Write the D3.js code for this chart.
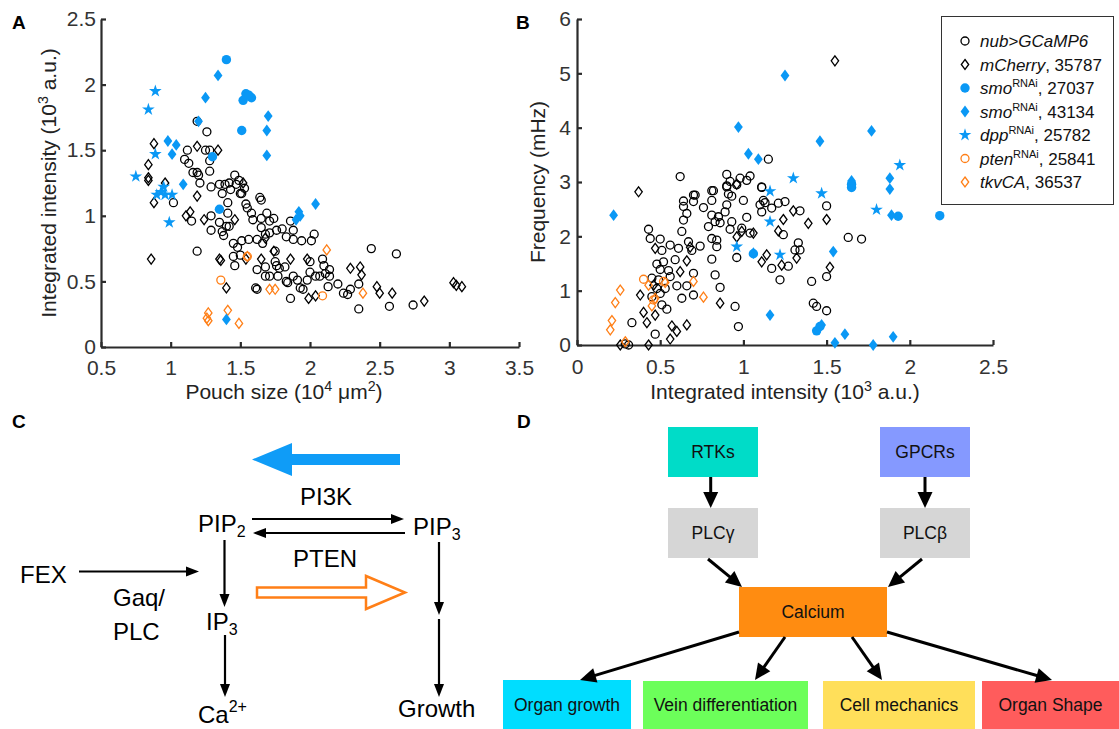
<!DOCTYPE html>
<html>
<head>
<meta charset="utf-8">
<script src="https://cdn.jsdelivr.net/npm/d3@7"></script>
<style>
  body { margin: 0; background: #fff; }
  svg { display: block; font-family: Arial, "Liberation Sans", Helvetica, sans-serif; }
</style>
</head>
<body>
<div id="fig"></div>
<script>
// ── DATA ──────────────────────────────────────────────────────────────────
// Panel A: pouch size (10^4 um^2) vs integrated intensity (10^3 a.u.)
const aNub = [[1.19,1.72],[1.26,1.64],[1.12,1.50],[1.25,1.50],[1.28,1.50],[1.10,1.43],[1.13,1.40],[1.28,1.42],[1.28,1.34],[1.16,1.33],[1.19,1.33],[1.20,1.31],[1.21,1.25],[1.29,1.22],[1.35,1.24],[1.39,1.24],[1.42,1.25],[1.46,1.31],[1.49,1.27],[1.37,1.17],[1.43,1.20],[1.50,1.17],[1.53,1.21],[1.64,1.14],[1.47,1.24],[1.51,1.17],[1.41,1.10],[1.54,1.09],[1.65,1.12],[1.02,1.10],[1.15,0.96],[1.29,1.00],[1.29,0.89],[1.41,1.02],[1.35,0.95],[1.40,0.92],[1.42,0.92],[1.37,0.88],[1.38,0.85],[1.58,1.02],[1.55,1.06],[1.59,0.97],[1.65,0.98],[1.69,1.02],[1.71,0.96],[1.74,0.98],[1.65,0.91],[1.68,0.86],[1.71,0.87],[1.76,0.89],[1.80,0.90],[1.86,0.96],[1.88,0.89],[1.88,0.82],[1.83,0.84],[1.94,0.81],[2.01,0.81],[2.03,0.86],[1.45,0.79],[1.48,0.76],[1.51,0.81],[1.56,0.82],[1.62,0.82],[1.66,0.79],[1.45,0.69],[1.46,0.62],[1.50,0.70],[1.19,0.73],[1.62,0.59],[1.68,0.61],[1.68,0.54],[1.71,0.54],[1.61,0.45],[1.62,0.44],[1.75,0.73],[1.75,0.65],[1.76,0.62],[1.78,0.60],[1.82,0.61],[1.77,0.54],[1.83,0.50],[1.88,0.54],[1.91,0.51],[1.93,0.45],[1.95,0.44],[1.98,0.51],[2.00,0.57],[2.00,0.65],[2.04,0.54],[2.07,0.54],[2.09,0.67],[2.10,0.62],[2.11,0.56],[2.14,0.59],[2.14,0.54],[2.13,0.46],[2.20,0.48],[2.24,0.41],[2.27,0.40],[2.29,0.44],[2.35,0.48],[2.35,0.29],[1.86,0.37],[1.84,0.49],[2.44,0.75],[2.62,0.71],[2.57,0.31],[2.74,0.32]];
const aMcherry = [[0.88,1.55],[0.84,1.39],[0.84,1.29],[1.19,1.53],[1.34,1.50],[0.96,1.25],[1.19,1.15],[0.84,1.27],[0.88,1.10],[1.14,1.03],[1.11,1.00],[1.24,0.97],[0.86,0.67],[1.35,0.67],[1.36,0.66],[1.40,0.45],[1.54,0.67],[1.65,0.67],[1.99,0.37],[2.04,0.39],[2.29,0.60],[2.36,0.61],[2.37,0.55],[2.48,0.46],[2.50,0.41],[2.59,0.41],[2.82,0.35],[3.03,0.49],[3.05,0.47],[3.09,0.46],[1.98,0.67],[1.74,0.73],[1.86,0.67],[1.46,0.97],[1.52,1.25],[1.68,0.83]];
const aSmo27037 = [[1.40,2.19],[1.54,1.93],[1.52,1.88],[1.58,1.90],[1.51,1.65],[1.30,1.45],[1.35,1.05],[1.56,1.92]];
const aSmo43134 = [[1.34,2.07],[1.25,1.90],[1.20,1.72],[1.70,1.76],[1.69,1.65],[1.69,1.46],[0.98,1.57],[1.04,1.54],[1.01,1.47],[1.09,1.24],[1.92,1.03],[1.90,0.97],[1.93,1.00],[2.04,1.09],[1.40,0.21]];
const aDpp = [[0.89,1.95],[0.84,1.81],[0.89,1.47],[0.75,1.30],[0.90,1.16],[0.95,1.22],[0.96,1.16],[1.01,1.16],[0.99,0.95],[0.93,1.18]];
const aPten = [[1.36,0.51],[2.09,0.39],[1.55,0.69]];
const aTkv = [[1.27,0.26],[1.26,0.22],[1.27,0.20],[1.41,0.28],[1.49,0.18],[1.71,0.44],[1.75,0.44],[1.55,0.69],[2.12,0.74],[2.38,0.41]];

// Panel B: integrated intensity (10^3 a.u.) vs frequency (mHz)
const bNub = [[0.62,3.10],[1.15,3.42],[0.90,3.14],[0.98,3.07],[1.04,3.11],[1.02,3.03],[0.92,3.01],[0.90,2.91],[0.96,2.95],[0.71,2.76],[0.82,2.84],[1.11,2.90],[0.91,2.78],[0.33,0.41],[0.47,0.20],[0.54,0.66],[0.51,0.74],[0.43,2.13],[0.44,1.96],[0.50,1.95],[0.51,1.74],[0.48,1.49],[0.45,1.23],[0.50,1.39],[0.52,1.53],[0.49,1.20],[0.48,1.04],[0.45,0.89],[0.50,0.95],[0.53,1.04],[0.55,1.37],[0.56,1.26],[0.60,1.09],[0.63,0.86],[0.59,1.57],[0.61,1.78],[0.56,1.84],[0.63,2.09],[0.64,2.30],[0.64,2.65],[0.64,2.55],[0.66,2.42],[0.70,2.64],[0.70,2.76],[0.67,1.90],[0.69,1.74],[0.70,1.32],[0.70,0.92],[0.66,1.09],[0.74,1.82],[0.76,2.53],[0.81,2.84],[0.81,2.66],[0.81,2.39],[0.83,2.27],[0.79,2.18],[0.85,2.36],[0.86,2.25],[0.89,2.45],[0.90,2.58],[0.90,2.93],[0.93,2.74],[0.93,2.27],[0.92,2.13],[0.81,1.96],[0.84,1.81],[0.84,1.93],[0.81,1.58],[0.83,1.29],[0.86,1.06],[0.96,1.61],[0.95,0.71],[0.97,0.34],[1.00,2.66],[1.02,2.35],[0.99,2.15],[1.04,2.06],[1.11,2.91],[1.10,2.58],[1.11,2.45],[1.12,2.66],[1.13,2.62],[1.17,2.52],[1.21,2.61],[1.25,2.64],[1.24,2.03],[1.33,1.88],[1.31,1.75],[1.34,1.75],[1.27,1.45],[1.22,1.20],[1.17,1.41],[1.34,2.47],[1.50,2.56],[1.41,1.17],[1.50,1.26],[1.42,0.77],[1.44,0.71],[1.50,0.63],[1.63,1.98],[1.71,1.95],[0.31,0.00],[0.29,0.02]];
const bMcherry = [[1.55,5.23],[0.37,2.82],[0.47,1.78],[0.38,0.92],[0.40,0.60],[0.42,0.41],[0.47,0.55],[0.57,0.35],[0.60,0.25],[0.56,0.11],[0.66,0.37],[0.26,0.00],[0.43,0.00],[0.66,1.55],[0.62,1.35],[0.86,0.77],[0.96,2.96],[0.96,1.99],[1.11,1.53],[1.14,1.66],[1.21,2.10],[1.24,2.31],[1.30,2.47],[1.23,1.47],[1.32,1.60],[1.39,2.24],[1.50,2.31],[1.52,1.43],[1.06,2.06],[0.99,2.09],[0.46,1.10],[0.68,1.80]];
const bSmo27037 = [[1.65,2.90],[1.65,2.96],[1.06,1.68],[1.44,0.26],[1.46,0.34],[1.93,2.37],[2.18,2.38]];
const bSmo43134 = [[0.22,2.39],[1.25,4.96],[0.97,4.01],[1.03,3.52],[1.09,3.42],[1.46,3.75],[1.65,3.02],[1.77,3.94],[1.88,3.07],[1.88,2.87],[1.89,2.39],[1.78,0.00],[1.90,0.15],[1.06,1.69],[1.54,1.72],[1.16,0.55],[1.61,0.20],[1.55,0.04],[1.47,0.37]];
const bDpp = [[1.30,3.07],[1.16,2.83],[1.47,2.79],[1.16,2.27],[0.96,1.81],[1.22,1.66],[1.80,2.49],[1.94,3.31]];
const bPten = [[0.40,1.21],[0.52,1.17],[0.46,0.83]];
const bTkv = [[0.26,1.01],[0.23,0.78],[0.21,0.45],[0.20,0.28],[0.29,0.06],[0.45,0.72],[0.43,1.10],[0.47,0.86],[0.53,1.15],[0.70,1.17],[0.76,0.88]];

// Tick labels
const aXTicks = [0.5, 1, 1.5, 2, 2.5, 3, 3.5];
const aYTicks = [0, 0.5, 1, 1.5, 2, 2.5];
const bXTicks = [0, 0.5, 1, 1.5, 2, 2.5];
const bYTicks = [0, 1, 2, 3, 4, 5, 6];

// Legend
const legendNames = ["nub>GCaMP6", "mCherry", "smo", "smo", "dpp", "pten", "tkvCA"];
const legendSup   = ["", "", "RNAi", "RNAi", "RNAi", "RNAi", ""];
const legendCodes = ["", ", 35787", ", 27037", ", 43134", ", 25782", ", 25841", ", 36537"];

// Panel D nodes
const dTop    = ["RTKs", "GPCRs"];
const dMid    = ["PLCγ", "PLCβ"];
const dCenter = "Calcium";
const dBottom = ["Organ growth", "Vein differentiation", "Cell mechanics", "Organ Shape"];

// ── STYLE ─────────────────────────────────────────────────────────────────
const BLUE = "#0a98f5";
const ORANGE = "#ff7f17";
const AXIS = "#2b2b2b";
const FONT = "Arial, 'Liberation Sans', Helvetica, sans-serif";
const TICK_FS = 21;
const LABEL_FS = 21;

const W = 1119, H = 729;
const svg = d3.select("#fig").append("svg")
  .attr("width", W).attr("height", H);
svg.append("rect").attr("width", W).attr("height", H).attr("fill", "#fff");

// ── MARKER SHAPES ─────────────────────────────────────────────────────────
const diamondPath = (w, h) => `M0,${-h}L${w},0L0,${h}L${-w},0Z`;
const starPath = d3.symbol(d3.symbolStar, 50)();

const series = (nub, mch, s1, s2, dpp, pten, tkv) => [
  { data: nub,  kind: "circle",  fill: "none", stroke: "#000" },
  { data: mch,  kind: "diamond", fill: "none", stroke: "#000" },
  { data: pten, kind: "circle",  fill: "none", stroke: ORANGE },
  { data: tkv,  kind: "diamond", fill: "none", stroke: ORANGE },
  { data: s1,   kind: "dot",     fill: BLUE,   stroke: "none" },
  { data: s2,   kind: "fdiamond",fill: BLUE,   stroke: "none" },
  { data: dpp,  kind: "star",    fill: BLUE,   stroke: "none" },
];

function drawMarker(sel, kind) {
  if (kind === "circle") return sel.append("circle").attr("r", 4).attr("stroke-width", 1.3);
  if (kind === "dot") return sel.append("circle").attr("r", 4.7);
  if (kind === "diamond") return sel.append("path").attr("d", diamondPath(3.7, 5)).attr("stroke-width", 1.3);
  if (kind === "fdiamond") return sel.append("path").attr("d", diamondPath(4.4, 5.9));
  return sel.append("path").attr("d", starPath);
}

function scatter(g, x, y, list) {
  list.forEach(s => {
    s.data.forEach(d => {
      const m = g.append("g").attr("transform", `translate(${x(d[0])},${y(d[1])})`);
      drawMarker(m, s.kind).attr("fill", s.fill).attr("stroke", s.stroke);
    });
  });
}

function styleAxis(ax) {
  ax.select(".domain").attr("stroke", AXIS).attr("stroke-width", 2.2);
  ax.selectAll(".tick line").attr("stroke", AXIS).attr("stroke-width", 2.2);
  ax.selectAll(".tick text")
    .attr("fill", "#333").attr("font-family", FONT).attr("font-size", TICK_FS + "px");
}

const fmt = d => String(d);

// label with superscripts: parts = [[text, isSup], ...]
function richLabel(g, transform, parts, fs) {
  const t = g.append("text").attr("transform", transform)
    .attr("text-anchor", "middle").attr("font-size", fs + "px").attr("fill", "#222");
  let up = false;
  parts.forEach(([txt, sup]) => {
    const ts = t.append("tspan").text(txt);
    if (sup && !up) { ts.attr("dy", -fs * 0.4).attr("font-size", (fs * 0.68) + "px"); up = true; }
    else if (sup) ts.attr("font-size", (fs * 0.68) + "px");
    else if (up) { ts.attr("dy", fs * 0.4); up = false; }
  });
  return t;
}

// ── PANEL A ───────────────────────────────────────────────────────────────
const xA = d3.scaleLinear().domain([0.5, 3.5]).range([101, 519]);
const yA = d3.scaleLinear().domain([0, 2.5]).range([347, 19]);
const gA = svg.append("g");

gA.append("g").attr("transform", `translate(0,${yA(0)})`)
  .call(d3.axisBottom(xA).tickValues(aXTicks).tickFormat(fmt).tickSize(-5).tickSizeOuter(0).tickPadding(13))
  .call(styleAxis);
gA.append("g").attr("transform", `translate(${xA(0.5)},0)`)
  .call(d3.axisLeft(yA).tickValues(aYTicks).tickFormat(fmt).tickSize(-5).tickSizeOuter(0).tickPadding(5))
  .call(styleAxis);

scatter(gA, xA, yA, series(aNub, aMcherry, aSmo27037, aSmo43134, aDpp, aPten, aTkv));

richLabel(gA, "translate(284,399)",
  [["Pouch size (10"], ["4", true], [" μm"], ["2", true], [")"]], LABEL_FS);
richLabel(gA, "translate(56,183) rotate(-90)",
  [["Integrated intensity (10"], ["3", true], [" a.u.)"]], LABEL_FS);

// ── PANEL B ───────────────────────────────────────────────────────────────
const xB = d3.scaleLinear().domain([0, 2.5]).range([577, 993]);
const yB = d3.scaleLinear().domain([0, 6]).range([345, 19]);
const gB = svg.append("g");

gB.append("g").attr("transform", `translate(0,${yB(0)})`)
  .call(d3.axisBottom(xB).tickValues(bXTicks).tickFormat(fmt).tickSize(-5).tickSizeOuter(0).tickPadding(14))
  .call(styleAxis);
gB.append("g").attr("transform", `translate(${xB(0)},0)`)
  .call(d3.axisLeft(yB).tickValues(bYTicks).tickFormat(fmt).tickSize(-5).tickSizeOuter(0).tickPadding(6))
  .call(styleAxis);

scatter(gB, xB, yB, series(bNub, bMcherry, bSmo27037, bSmo43134, bDpp, bPten, bTkv));

richLabel(gB, "translate(785,399)",
  [["Integrated intensity (10"], ["3", true], [" a.u.)"]], LABEL_FS);
richLabel(gB, "translate(545,182) rotate(-90)", [["Frequency (mHz)"]], LABEL_FS);

// Legend
const leg = svg.append("g");
leg.append("rect").attr("x", 941.5).attr("y", 16.5).attr("width", 172).attr("height", 188)
  .attr("fill", "#fff").attr("stroke", "#333").attr("stroke-width", 1);
const legKinds = ["circle", "diamond", "dot", "fdiamond", "star", "circle", "diamond"];
const legColors = ["#000", "#000", BLUE, BLUE, BLUE, ORANGE, ORANGE];
legendNames.forEach((name, i) => {
  const cy = 41 + i * 23.5;
  const m = leg.append("g").attr("transform", `translate(965,${cy})`);
  const filled = legKinds[i] === "dot" || legKinds[i] === "fdiamond" || legKinds[i] === "star";
  drawMarker(m, legKinds[i])
    .attr("fill", filled ? legColors[i] : "none")
    .attr("stroke", filled ? "none" : legColors[i]);
  const t = leg.append("text").attr("x", 980).attr("y", cy + 6)
    .attr("font-size", "17px").attr("fill", "#111");
  t.append("tspan").attr("font-style", "italic").text(name);
  if (legendSup[i]) t.append("tspan").attr("dy", -7).attr("font-size", "11px").text(legendSup[i]);
  if (legendCodes[i]) t.append("tspan").attr("dy", legendSup[i] ? 7 : 0).text(legendCodes[i]);
});

// ── PANEL LETTERS ─────────────────────────────────────────────────────────
[["A", 12, 29], ["B", 516, 29], ["C", 12, 428], ["D", 517, 428]].forEach(([t, x, y]) => {
  svg.append("text").attr("x", x).attr("y", y).attr("font-size", "19px")
    .attr("font-weight", "bold").attr("fill", "#000").text(t);
});

// ── ARROW HELPER ──────────────────────────────────────────────────────────
function arrow(g, x1, y1, x2, y2, opts) {
  const o = Object.assign({ w: 2.2, hl: 13, hw: 10, color: "#000" }, opts);
  const ang = Math.atan2(y2 - y1, x2 - x1);
  const bx = x2 - o.hl * Math.cos(ang), by = y2 - o.hl * Math.sin(ang);
  g.append("line").attr("x1", x1).attr("y1", y1).attr("x2", bx + Math.cos(ang)).attr("y2", by + Math.sin(ang))
    .attr("stroke", o.color).attr("stroke-width", o.w);
  const px = -Math.sin(ang) * o.hw / 2, py = Math.cos(ang) * o.hw / 2;
  g.append("path")
    .attr("d", `M${x2},${y2}L${bx + px},${by + py}L${bx - px},${by - py}Z`)
    .attr("fill", o.color);
}

// ── PANEL C ───────────────────────────────────────────────────────────────
const gC = svg.append("g").attr("font-size", "24px").attr("fill", "#000");

// big blue arrow (PI3K direction)
gC.append("path")
  .attr("d", "M400,454L292,454L292,443L252,459.5L292,476L292,465L400,465Z")
  .attr("fill", "#0f9cf7");
// hollow orange arrow (PTEN direction)
gC.append("path")
  .attr("d", "M257,587.5L366,587.5L366,576L405,592.5L366,609L366,597.5L257,597.5Z")
  .attr("fill", "#fff").attr("stroke", ORANGE).attr("stroke-width", 2.5);

function chem(x, y, main, sub, sup) {
  const t = gC.append("text").attr("x", x).attr("y", y);
  t.append("tspan").text(main);
  if (sub) t.append("tspan").attr("dy", 5).attr("font-size", "16px").text(sub);
  if (sup) t.append("tspan").attr("dy", -11).attr("font-size", "16px").text(sup);
}
chem(198, 532, "PIP", "2");
chem(413, 535, "PIP", "3");
chem(206, 630, "IP", "3");
chem(198, 723, "Ca", null, "2+");
chem(20, 583, "FEX");
chem(113, 606, "Gaq/");
chem(113, 640, "PLC");
chem(300, 505, "PI3K");
chem(293, 567, "PTEN");
chem(398, 717, "Growth");

arrow(gC, 252, 519, 404, 519);
arrow(gC, 405, 533, 253, 533);
arrow(gC, 79, 571.5, 199, 571.5);
arrow(gC, 224.5, 540, 224.5, 607);
arrow(gC, 225, 635, 225, 697);
arrow(gC, 439, 542, 439, 615);
arrow(gC, 439, 619, 439, 697);

// ── PANEL D ───────────────────────────────────────────────────────────────
const gD = svg.append("g");
function box(x, y, w, h, fill, label) {
  gD.append("rect").attr("x", x).attr("y", y).attr("width", w).attr("height", h).attr("fill", fill);
  gD.append("text").attr("x", x + w / 2).attr("y", y + h / 2 + 6)
    .attr("text-anchor", "middle").attr("font-size", "17.5px").attr("fill", "#111")
    .text(label);
}
box(668, 427, 90, 50, "#00dcc8", dTop[0]);
box(880, 427, 90, 50, "#8599ff", dTop[1]);
box(668, 508, 90, 50, "#d6d6d6", dMid[0]);
box(880, 508, 90, 50, "#d6d6d6", dMid[1]);
box(739, 587, 148, 50, "#ff8c11", dCenter);
box(503, 680, 128, 49, "#00ddff", dBottom[0]);
box(643, 681, 165, 48, "#6cff5a", dBottom[1]);
box(823, 681, 152, 48, "#ffdf5a", dBottom[2]);
box(982, 681, 137, 48, "#ff5c5c", dBottom[3]);

const dOpt = { w: 3, hl: 16, hw: 15 };
arrow(gD, 710.7, 477, 710.7, 508, dOpt);
arrow(gD, 925, 477, 925, 508, dOpt);
arrow(gD, 708, 559, 742, 587, dOpt);
arrow(gD, 922, 559, 888, 587, dOpt);
arrow(gD, 739, 632, 580, 680, dOpt);
arrow(gD, 785, 637, 755, 680, dOpt);
arrow(gD, 852, 637, 882, 680, dOpt);
arrow(gD, 887, 632, 1052, 680, dOpt);
</script>
</body>
</html>
